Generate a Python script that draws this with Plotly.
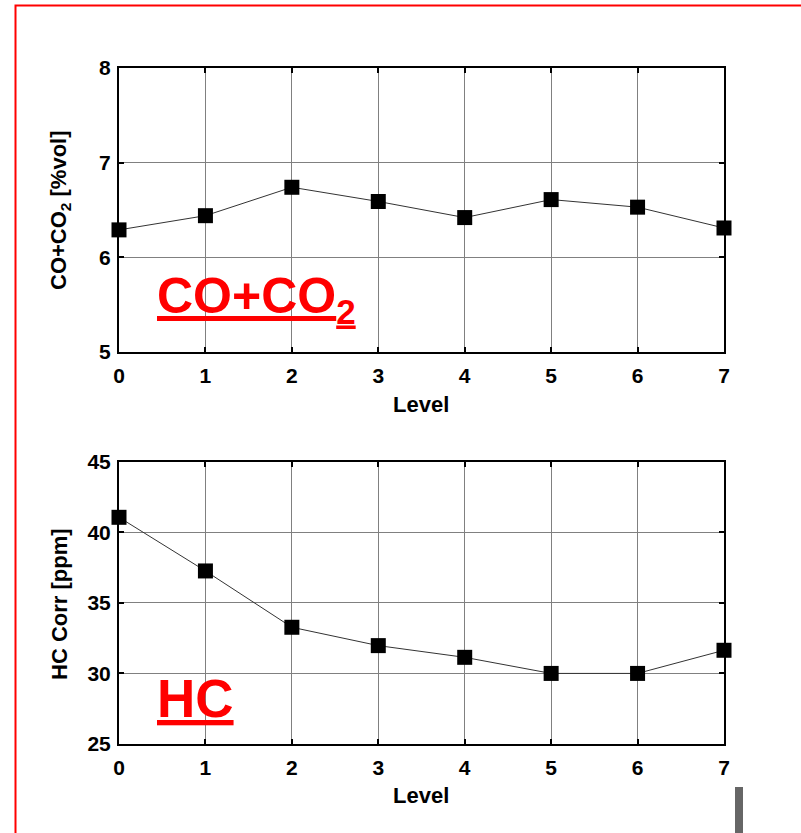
import plotly.graph_objects as go

levels = [0, 1, 2, 3, 4, 5, 6, 7]
co_co2 = [6.29, 6.44, 6.74, 6.59, 6.42, 6.61, 6.53, 6.31]
hc_corr = [41.06, 37.26, 33.27, 31.97, 31.14, 30.0, 30.0, 31.64]
x_ticks = [0, 1, 2, 3, 4, 5, 6, 7]
y1_ticks = [5, 6, 7, 8]
y2_ticks = [25, 30, 35, 40, 45]

W, H = 801, 833
FONT = "Arial, Liberation Sans, sans-serif"

def px(v):
    return v / W

def py(v):
    return 1 - v / H

fig = go.Figure()
marker = dict(symbol="square", size=15, color="black")
line = dict(color="#333333", width=1)
fig.add_trace(go.Scatter(x=levels, y=co_co2, mode="lines+markers", marker=marker, line=line,
                         xaxis="x", yaxis="y", showlegend=False, cliponaxis=False))
fig.add_trace(go.Scatter(x=levels, y=hc_corr, mode="lines+markers", marker=marker, line=line,
                         xaxis="x2", yaxis="y2", showlegend=False, cliponaxis=False))

axis_common = dict(showline=True, linecolor="black", linewidth=2, mirror="ticks",
                   ticks="inside", ticklen=5, tickwidth=2, tickcolor="black",
                   showgrid=True, gridcolor="#808080", gridwidth=1, zeroline=False,
                   automargin=False,
                   tickfont=dict(family=FONT, size=21, color="black", weight="bold"))

xdom = [px(119), px(724)]
fig.update_layout(
    width=W, height=H,
    margin=dict(l=0, r=0, t=0, b=0),
    paper_bgcolor="white", plot_bgcolor="white",
    font=dict(family=FONT, color="black"),
    xaxis=dict(domain=xdom, range=[0, 7], tickvals=x_ticks, anchor="y", ticklabelstandoff=4, **axis_common),
    yaxis=dict(domain=[py(352), py(68)], range=[5, 8], tickvals=y1_ticks, anchor="x", ticklabelstandoff=2, **axis_common),
    xaxis2=dict(domain=xdom, range=[0, 7], tickvals=x_ticks, anchor="y2", ticklabelstandoff=4, **axis_common),
    yaxis2=dict(domain=[py(744), py(461.7)], range=[25, 45], tickvals=y2_ticks, anchor="x2", ticklabelstandoff=2, **axis_common),
)

title_font = dict(family=FONT, size=22, color="black")
# x-axis titles
for yc in (404, 795):
    fig.add_annotation(text="<b>Level</b>", xref="paper", yref="paper", x=px(421), y=py(yc),
                       xanchor="center", yanchor="middle", showarrow=False, font=title_font)
# y-axis titles
fig.add_annotation(text="<b>CO+CO<sub>2</sub> [%vol]</b>", xref="paper", yref="paper",
                   x=px(60), y=py(210), xanchor="center", yanchor="middle", textangle=-90,
                   showarrow=False, font=title_font)
fig.add_annotation(text="<b>HC Corr [ppm]</b>", xref="paper", yref="paper",
                   x=px(59), y=py(604), xanchor="center", yanchor="middle", textangle=-90,
                   showarrow=False, font=title_font)

# red labels
fig.add_annotation(text="<u><b>CO+CO<sub>2</sub></b></u>", xref="paper", yref="paper",
                   x=px(155), y=py(333), xanchor="left", yanchor="bottom", showarrow=False,
                   font=dict(family=FONT, size=50, color="red"))
fig.add_annotation(text="<u><b>HC</b></u>", xref="paper", yref="paper",
                   x=px(155), y=py(730), xanchor="left", yanchor="bottom", showarrow=False,
                   font=dict(family=FONT, size=53, color="red"))

fig.add_shape(type="rect", xref="paper", yref="paper",
              x0=px(15.5), x1=px(830), y0=py(860), y1=py(5.5),
              line=dict(color="red", width=2), fillcolor="rgba(0,0,0,0)")
fig.add_shape(type="rect", xref="paper", yref="paper",
              x0=px(735), x1=px(743), y0=py(840), y1=py(787),
              line=dict(width=0), fillcolor="#666666")

fig.write_html("out.html")
